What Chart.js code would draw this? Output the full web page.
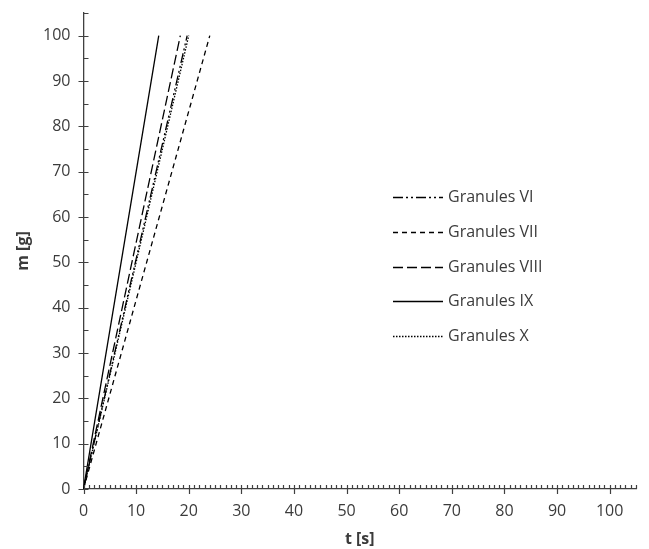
<!DOCTYPE html>
<html>
<head>
<meta charset="utf-8">
<script src="https://cdn.jsdelivr.net/npm/chart.js@4/dist/chart.umd.min.js"></script>
<style>
  html, body { margin: 0; padding: 0; background: #ffffff; }
  #wrap { width: 649px; height: 549px; }
</style>
</head>
<body>
<div id="wrap"><canvas id="c" width="649" height="549"></canvas></div>
<script>
// ---- data ----
const seriesNames = ["Granules VI", "Granules VII", "Granules VIII", "Granules IX", "Granules X"];
const timeStart = [0, 0, 0, 0, 0];          // t [s] at m = 0
const massStart = [0, 0, 0, 0, 0];          // m [g]
const timeEnd   = [19.7, 24.0, 18.4, 14.3, 20.0]; // t [s] at m = 100
const massEnd   = [100, 100, 100, 100, 100];
const xTickLabels = [0, 10, 20, 30, 40, 50, 60, 70, 80, 90, 100];
const yTickLabels = [0, 10, 20, 30, 40, 50, 60, 70, 80, 90, 100];

// ---- styles ----
const dashes = [[10, 3, 2, 3, 2, 3], [5, 4], [10, 4], [], [1.5, 1.5]];
const FONT = "'Open Sans', 'Noto Sans', sans-serif";
const TEXT = '#3b3b3b';
const AXIS = '#404040';

const datasets = seriesNames.map((name, i) => ({
  label: name,
  data: [{x: timeStart[i], y: massStart[i]}, {x: timeEnd[i], y: massEnd[i]}],
  showLine: true,
  borderColor: '#000000',
  borderWidth: 1.3,
  borderDash: dashes[i],
  pointRadius: 0,
  fill: false
}));

const tickPlugin = {
  id: 'excelTicks',
  afterDraw(chart) {
    const ctx = chart.ctx;
    const xs = chart.scales.x, ys = chart.scales.y;
    const axY = ys.getPixelForValue(0);
    const axX = xs.getPixelForValue(0);
    ctx.save();
    ctx.strokeStyle = AXIS;
    ctx.lineWidth = 1.2;
    ctx.beginPath();
    // x ticks: minor every 1 inside, major every 10 crossing
    for (let v = 0; v <= xs.max + 1e-9; v += 1) {
      const px = Math.round(xs.getPixelForValue(v)) + 0.5;
      if (v % 10 === 0) { ctx.moveTo(px, axY - 4); ctx.lineTo(px, axY + 5); }
      else { ctx.moveTo(px, axY - 4); ctx.lineTo(px, axY); }
    }
    // y ticks: minor every 5 inside, major every 10 crossing
    for (let v = 0; v <= ys.max + 1e-9; v += 5) {
      const py = Math.round(ys.getPixelForValue(v)) + 0.5;
      if (v % 10 === 0) { ctx.moveTo(axX - 5, py); ctx.lineTo(axX + 5, py); }
      else { ctx.moveTo(axX, py); ctx.lineTo(axX + 5, py); }
    }
    ctx.stroke();

    // legend inside the plot
    const x0 = 393, x1 = 443, tx = 448;
    const rowY = [197, 232, 267, 301, 336];
    ctx.font = '16px ' + FONT;
    ctx.textBaseline = 'middle';
    ctx.textAlign = 'left';
    chart.data.datasets.forEach((ds, i) => {
      const y = rowY[i];
      ctx.strokeStyle = '#000000';
      ctx.lineWidth = ds.borderWidth;
      ctx.setLineDash(ds.borderDash);
      ctx.beginPath();
      ctx.moveTo(x0, y + 0.5);
      ctx.lineTo(x1, y + 0.5);
      ctx.stroke();
      ctx.setLineDash([]);
      ctx.fillStyle = TEXT;
      ctx.fillText(ds.label, tx, y);
    });
    ctx.restore();
  }
};

new Chart(document.getElementById('c'), {
  type: 'scatter',
  data: { datasets },
  options: {
    responsive: false,
    animation: false,
    layout: { padding: { top: 13, right: 13, left: 0, bottom: 0 } },
    plugins: { legend: { display: false }, tooltip: { enabled: false } },
    scales: {
      x: {
        type: 'linear', min: 0, max: 105,
        grid: { display: false, drawTicks: false },
        border: { display: true, color: AXIS, width: 1.3 },
        afterBuildTicks: s => { s.ticks = xTickLabels.map(v => ({ value: v })); },
        afterFit: s => { s.height = 60; s.paddingLeft = 0; s.paddingRight = 0; },
        ticks: { color: TEXT, font: { family: FONT, size: 16 }, padding: 13, maxRotation: 0 },
        title: { display: true, text: 't [s]', color: TEXT, font: { family: FONT, size: 16, weight: 'bold' }, padding: { top: 0, bottom: 0 } }
      },
      y: {
        type: 'linear', min: 0, max: 105,
        grid: { display: false, drawTicks: false },
        border: { display: true, color: AXIS, width: 1.3 },
        afterBuildTicks: s => { s.ticks = yTickLabels.map(v => ({ value: v })); },
        afterFit: s => { s.width = 83.5; s.paddingTop = 0; s.paddingBottom = 0; },
        ticks: { color: TEXT, font: { family: FONT, size: 16 }, padding: 13 },
        title: { display: true, text: 'm [g]', color: TEXT, font: { family: FONT, size: 16, weight: 'bold' }, padding: { top: 14, bottom: 0 } }
      }
    }
  },
  plugins: [tickPlugin]
});
</script>
</body>
</html>
